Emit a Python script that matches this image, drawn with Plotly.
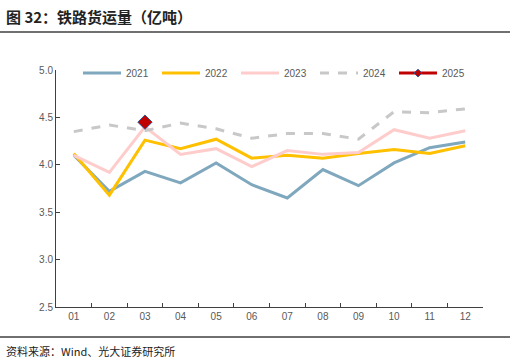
import plotly.graph_objects as go

months = ["01", "02", "03", "04", "05", "06", "07", "08", "09", "10", "11", "12"]
y2021 = [4.10, 3.72, 3.93, 3.81, 4.02, 3.79, 3.65, 3.95, 3.78, 4.02, 4.18, 4.24]
y2022 = [4.12, 3.68, 4.26, 4.17, 4.27, 4.07, 4.10, 4.07, 4.12, 4.16, 4.12, 4.20]
y2023 = [4.10, 3.92, 4.40, 4.11, 4.17, 3.98, 4.15, 4.11, 4.13, 4.37, 4.28, 4.36]
y2024 = [4.35, 4.42, 4.36, 4.44, 4.38, 4.28, 4.33, 4.33, 4.27, 4.56, 4.55, 4.59]
y2025 = [None, None, 4.45, None, None, None, None, None, None, None, None, None]
y_ticks = [2.5, 3.0, 3.5, 4.0, 4.5, 5.0]

FONT = "Noto Sans CJK SC"
fig = go.Figure()
fig.add_trace(go.Scatter(x=months, y=y2021, name="2021", mode="lines",
                         line=dict(color="#7FA8BE", width=3)))
fig.add_trace(go.Scatter(x=months, y=y2022, name="2022", mode="lines",
                         line=dict(color="#FFC000", width=3)))
fig.add_trace(go.Scatter(x=months, y=y2023, name="2023", mode="lines",
                         line=dict(color="#FFCCCC", width=3)))
fig.add_trace(go.Scatter(x=months, y=y2024, name="2024", mode="lines",
                         line=dict(color="#C8C8C8", width=3, dash="dash")))
fig.add_trace(go.Scatter(x=months, y=y2025, name="2025", mode="lines+markers",
                         showlegend=False, legendgroup="2025",
                         line=dict(color="#C00000", width=3),
                         marker=dict(symbol="diamond", size=11, color="#C00000",
                                     line=dict(color="#2F5597", width=1))))
# legend-only entry with a small marker, as in the reference legend
fig.add_trace(go.Scatter(x=[months[0]], y=[None], name="2025", mode="lines+markers",
                         legendgroup="2025",
                         line=dict(color="#C00000", width=3),
                         marker=dict(symbol="diamond", size=6, color="#C00000",
                                     line=dict(color="#2F5597", width=1))))

fig.update_layout(
    width=516, height=364,
    margin=dict(l=56, r=33, t=70, b=57),
    paper_bgcolor="white", plot_bgcolor="white",
    font=dict(family=FONT, color="#595959", size=10),
    showlegend=True,
    legend=dict(orientation="h", x=(78 - 56) / 427, xanchor="left", y=0.987, yanchor="middle",
                font=dict(size=10, color="#595959", family="Liberation Sans"),
                entrywidth=26, itemwidth=38, bgcolor="rgba(0,0,0,0)", tracegroupgap=0),
    xaxis=dict(type="category", range=[-0.5, 11.5], showgrid=False,
               showline=True, linecolor="#404040", linewidth=1,
               ticks="inside", tickson="boundaries", ticklen=4, tickcolor="#404040",
               tickfont=dict(size=10, color="#595959", family="Liberation Sans")),
    yaxis=dict(range=[2.5, 5.0], tickvals=y_ticks, tickformat=".1f", showgrid=False,
               showline=True, linecolor="#404040", linewidth=1,
               ticks="inside", ticklen=4, tickcolor="#404040", zeroline=False,
               tickfont=dict(size=10, color="#595959", family="Liberation Sans")),
    annotations=[
        dict(text="<b>图 32：铁路货运量（亿吨）</b>", xref="paper", yref="paper",
             x=(4 - 56) / 427, y=1 + (70 - 16) / 237, xanchor="left", yanchor="middle",
             showarrow=False, font=dict(size=15, color="#222222", family=FONT)),
        dict(text="资料来源：Wind、光大证券研究所", xref="paper", yref="paper",
             x=(4 - 56) / 427, y=-(351 - 307) / 237, xanchor="left", yanchor="middle",
             showarrow=False, font=dict(size=11, color="#222222", family=FONT)),
    ],
    shapes=[
        dict(type="line", xref="paper", yref="paper", x0=(0 - 56) / 427, x1=(510 - 56) / 427,
             y0=1 + (70 - 32) / 237, y1=1 + (70 - 32) / 237,
             line=dict(color="#707070", width=2)),
        dict(type="line", xref="paper", yref="paper", x0=(0 - 56) / 427, x1=(510 - 56) / 427,
             y0=-(337 - 307) / 237, y1=-(337 - 307) / 237,
             line=dict(color="#404040", width=1.5)),
    ],
)

fig.write_html("out.html", config={"displayModeBar": False},
               post_script="document.body.style.margin='0';")
